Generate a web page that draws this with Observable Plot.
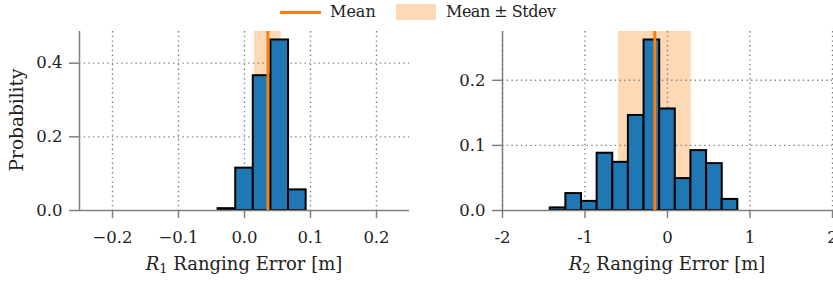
<!DOCTYPE html>
<html>
<head>
<meta charset="utf-8">
<script src="https://cdn.jsdelivr.net/npm/d3@7"></script>
<script src="https://cdn.jsdelivr.net/npm/@observablehq/plot@0.6"></script>
<style>
  html, body { margin: 0; padding: 0; background: #fff; overflow: hidden; }
  #wrap { position: relative; width: 833px; height: 283px; font-family: "DejaVu Serif", serif; color: #222; }
  .panel { position: absolute; top: 0; }
  .panel svg { overflow: visible; }
  .xlabel { position: absolute; top: 253px; font-size: 18px; white-space: nowrap; transform: translateX(-50%); }
  .xlabel sub { font-size: 13px; vertical-align: -3px; line-height: 0; }
  .ylabel { position: absolute; left: 15.5px; top: 120px; font-size: 18.5px; white-space: nowrap; transform: translate(-50%, -50%) rotate(-90deg); }
  .leg { position: absolute; font-size: 16px; white-space: nowrap; }
</style>
</head>
<body>
<div id="wrap">
  <div id="p1" class="panel" style="left:0px"></div>
  <div id="p2" class="panel" style="left:416px"></div>
  <div class="ylabel">Probability</div>
  <div class="xlabel" style="left:244px"><i>R</i><sub>1</sub> Ranging Error [m]</div>
  <div class="xlabel" style="left:667px"><i>R</i><sub>2</sub> Ranging Error [m]</div>
  <div class="leg" style="left:280px; top:10.5px; width:41px; height:3px; background:#ff7f0e"></div>
  <div class="leg" style="left:330px; top:2px;">Mean</div>
  <div class="leg" style="left:396px; top:4px; width:40px; height:16px; background:rgba(255,127,14,0.3)"></div>
  <div class="leg" style="left:446px; top:2px; letter-spacing:-0.5px;">Mean ± Stdev</div>
</div>
<script>
// ---- data ----
const r1BinStart = [-0.0400, -0.0133, 0.0133, 0.0400, 0.0667];
const r1Prob     = [0.005, 0.115, 0.366, 0.463, 0.056];
const r1BinWidth = 0.0267;
const r1Mean = 0.0355;
const r1Std  = 0.0203;
const r1XTicks  = [-0.2, -0.1, 0, 0.1, 0.2];
const r1XLabels = ["\u22120.2", "\u22120.1", "0.0", "0.1", "0.2"];
const r1YTicks  = [0, 0.2, 0.4];
const r1YLabels = ["0.0", "0.2", "0.4"];

const r2BinStart = [-1.421, -1.232, -1.042, -0.853, -0.663, -0.474, -0.284, -0.095, 0.095, 0.284, 0.474, 0.663];
const r2Prob     = [0.004, 0.026, 0.014, 0.088, 0.074, 0.146, 0.262, 0.156, 0.049, 0.092, 0.072, 0.017];
const r2BinWidth = 0.1895;
const r2Mean = -0.154;
const r2Std  = 0.44;
const r2XTicks  = [-2, -1, 0, 1, 2];
const r2XLabels = ["-2", "-1", "0", "1", "2"];
const r2YTicks  = [0, 0.1, 0.2];
const r2YLabels = ["0.0", "0.1", "0.2"];

const BLUE = "#1f77b4", ORANGE = "#ff7f0e", GRAY = "#808080";
const FONT = "DejaVu Serif, serif";
const FS = 16.5;

function panel({binStart, prob, binWidth, mean, std, xTicks, xLabels, yTicks, yLabels, xDomain, yDomain, width, marginLeft, marginRight}) {
  const bins = binStart.map((x0, i) => ({x0, x1: x0 + binWidth, p: prob[i]}));
  const band = [{x1: mean - std, x2: mean + std}];
  const dots = {stroke: GRAY, strokeOpacity: 1, strokeWidth: 1.4, strokeDasharray: "1.4,3.3"};
  return Plot.plot({
    width, height: 283,
    marginLeft, marginRight, marginTop: 31, marginBottom: 73,
    x: {domain: xDomain},
    y: {domain: yDomain},
    style: {fontFamily: FONT, fontSize: FS + "px", color: "#222", background: "transparent", overflow: "visible"},
    marks: [
      Plot.rect(band, {x1: "x1", x2: "x2", fill: ORANGE, fillOpacity: 0.3}),
      Plot.gridX({ticks: xTicks, ...dots}),
      Plot.gridY({ticks: yTicks.filter(d => d > 0), ...dots}),
      Plot.rectY(bins, {x1: "x0", x2: "x1", y: "p", fill: BLUE, stroke: "black", strokeWidth: 2}),
      Plot.ruleX([mean], {stroke: ORANGE, strokeWidth: 3}),
      Plot.ruleX([xDomain[0]], {stroke: GRAY, strokeWidth: 1.5}),
      Plot.ruleY([0], {stroke: GRAY, strokeWidth: 1.5}),
      Plot.axisX({ticks: xTicks, tickFormat: d => xLabels[xTicks.indexOf(d)], tickSize: 8, tickPadding: 13,
                  stroke: GRAY, strokeWidth: 1.5, fill: "#222", label: null,
                  fontSize: FS, fontFamily: FONT}),
      Plot.axisY({ticks: yTicks, tickFormat: d => yLabels[yTicks.indexOf(d)], tickSize: 10, tickPadding: 7,
                  stroke: GRAY, strokeWidth: 1.5, fill: "#222", label: null,
                  fontSize: FS, fontFamily: FONT})
    ]
  });
}

document.getElementById("p1").append(panel({
  binStart: r1BinStart, prob: r1Prob, binWidth: r1BinWidth, mean: r1Mean, std: r1Std,
  xTicks: r1XTicks, xLabels: r1XLabels, yTicks: r1YTicks, yLabels: r1YLabels,
  xDomain: [-0.25, 0.25], yDomain: [0, 0.486], width: 416, marginLeft: 79, marginRight: 7
}));
document.getElementById("p2").append(panel({
  binStart: r2BinStart, prob: r2Prob, binWidth: r2BinWidth, mean: r2Mean, std: r2Std,
  xTicks: r2XTicks, xLabels: r2XLabels, yTicks: r2YTicks, yLabels: r2YLabels,
  xDomain: [-2, 2], yDomain: [0, 0.275], width: 417, marginLeft: 86, marginRight: 1
}));
</script>
</body>
</html>
